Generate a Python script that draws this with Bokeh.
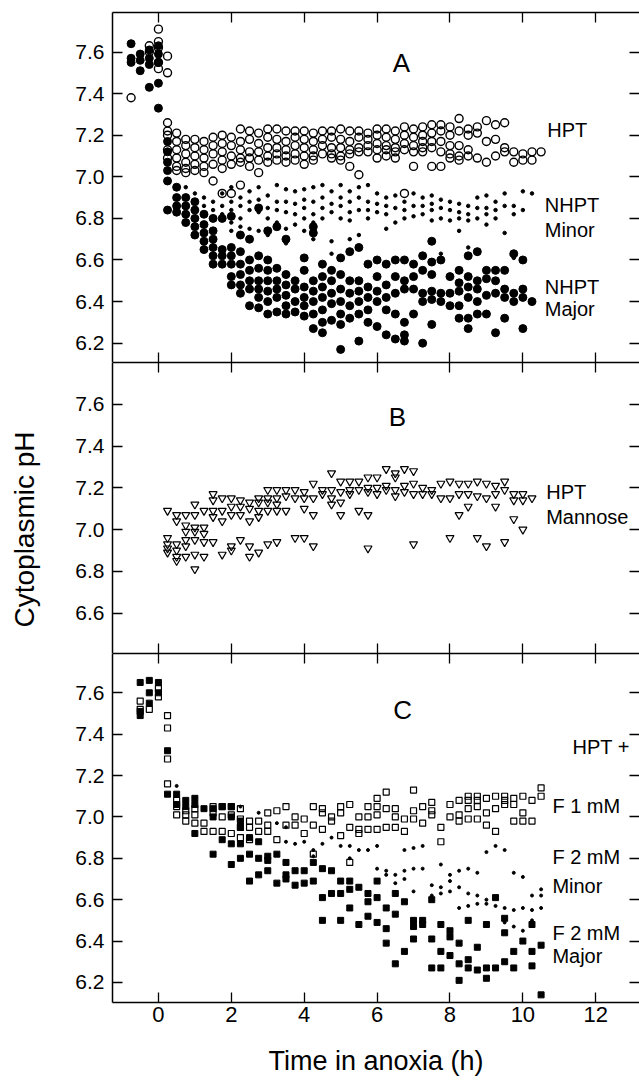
from bokeh.plotting import figure
from bokeh.layouts import column
from bokeh.models import (Range1d, FixedTicker, LinearAxis, PrintfTickFormatter, Label, Title,
                          CustomLabelingPolicy)
from bokeh.embed import file_html
from bokeh.resources import INLINE

FONT = "Liberation Sans"

# ---------------- data (time in anoxia h -> cytoplasmic pH values) ----------------
X_TICKS = [0, 2, 4, 6, 8, 10, 12]
Y_TICKS_A = [6.2, 6.4, 6.6, 6.8, 7.0, 7.2, 7.4, 7.6]
Y_TICKS_B = [6.6, 6.8, 7.0, 7.2, 7.4, 7.6]
Y_TICKS_C = [6.2, 6.4, 6.6, 6.8, 7.0, 7.2, 7.4, 7.6]

# Panel A: HPT (open circles)
A_HPT = {
    -0.75: [7.38], -0.25: [7.63, 7.60], 0.0: [7.71, 7.65, 7.62, 7.55, 7.52],
    0.25: [7.58, 7.50, 7.26, 7.22, 7.20, 7.13, 7.09],
    0.5: [7.21, 7.17, 7.13, 7.09, 7.05, 7.03], 0.75: [7.18, 7.15, 7.11, 7.07, 7.04, 7.02],
    1.0: [7.18, 7.14, 7.10, 7.06, 7.03], 1.25: [7.17, 7.13, 7.09, 7.05, 7.02],
    1.5: [7.19, 7.15, 7.11, 7.06, 6.98], 1.75: [7.20, 7.16, 7.12, 7.08, 7.04, 6.92],
    2.0: [7.19, 7.15, 7.10, 7.06, 6.92], 2.25: [7.23, 7.17, 7.13, 7.09, 7.07, 6.96],
    2.5: [7.22, 7.18, 7.12, 7.09, 7.05], 2.75: [7.21, 7.16, 7.12, 7.08, 7.02],
    3.0: [7.23, 7.19, 7.14, 7.10, 7.07], 3.25: [7.23, 7.18, 7.14, 7.11, 7.08],
    3.5: [7.22, 7.17, 7.13, 7.10, 7.07], 3.75: [7.22, 7.19, 7.15, 7.11, 7.08],
    4.0: [7.22, 7.18, 7.14, 7.10, 7.06], 4.25: [7.21, 7.17, 7.13, 7.10, 7.08],
    4.5: [7.22, 7.18, 7.15, 7.11], 4.75: [7.22, 7.19, 7.14, 7.11, 7.09],
    5.0: [7.23, 7.18, 7.14, 7.10, 7.08], 5.25: [7.22, 7.17, 7.13, 7.11, 7.05],
    5.5: [7.22, 7.19, 7.14, 7.12, 7.01], 5.75: [7.21, 7.18, 7.15, 7.12],
    6.0: [7.23, 7.20, 7.16, 7.13, 7.09], 6.25: [7.23, 7.19, 7.15, 7.13, 7.10],
    6.5: [7.22, 7.18, 7.14, 7.12, 7.09], 6.75: [7.24, 7.20, 7.16, 7.13, 6.92],
    7.0: [7.23, 7.19, 7.15, 7.12, 7.05], 7.25: [7.24, 7.20, 7.17, 7.14, 7.12],
    7.5: [7.25, 7.21, 7.17, 7.14, 7.05], 7.75: [7.25, 7.22, 7.17, 7.12, 7.05],
    8.0: [7.24, 7.20, 7.15, 7.11, 7.09], 8.25: [7.28, 7.22, 7.15, 7.10, 7.08],
    8.5: [7.23, 7.20, 7.13, 7.10], 8.75: [7.24, 7.21, 7.09], 9.0: [7.27, 7.17, 7.07],
    9.25: [7.25, 7.18, 7.10], 9.5: [7.26, 7.14, 7.12], 9.75: [7.12, 7.07],
    10.0: [7.11, 7.08], 10.25: [7.12, 7.08], 10.5: [7.12],
}

# Panel A: NHPT major (filled circles)
A_NHPT_MAJOR = {
    -0.75: [7.64, 7.57, 7.55], -0.5: [7.59, 7.56, 7.51], -0.25: [7.61, 7.57, 7.54, 7.43],
    0.0: [7.63, 7.59, 7.55, 7.45, 7.33], 0.25: [7.17, 7.12, 7.07, 7.03, 6.98, 6.84],
    0.5: [6.95, 6.90, 6.86, 6.83], 0.75: [6.90, 6.86, 6.82, 6.78],
    1.0: [6.88, 6.84, 6.80, 6.76, 6.72], 1.25: [6.82, 6.77, 6.73, 6.69, 6.65],
    1.5: [6.80, 6.74, 6.70, 6.66, 6.62, 6.58], 1.75: [6.80, 6.65, 6.62, 6.58],
    2.0: [6.81, 6.66, 6.62, 6.58, 6.52, 6.48], 2.25: [6.72, 6.64, 6.58, 6.53, 6.48, 6.44],
    2.5: [6.70, 6.60, 6.55, 6.50, 6.46, 6.38], 2.75: [6.85, 6.62, 6.56, 6.50, 6.46, 6.42, 6.37],
    3.0: [6.74, 6.60, 6.55, 6.50, 6.45, 6.40, 6.34], 3.25: [6.76, 6.56, 6.50, 6.46, 6.42, 6.35],
    3.5: [6.70, 6.53, 6.48, 6.43, 6.38, 6.34], 3.75: [6.50, 6.46, 6.40, 6.35],
    4.0: [6.61, 6.55, 6.47, 6.42, 6.38, 6.33], 4.25: [6.76, 6.73, 6.50, 6.45, 6.40, 6.34, 6.27],
    4.5: [6.58, 6.52, 6.47, 6.42, 6.36, 6.30, 6.25], 4.75: [6.55, 6.50, 6.44, 6.39, 6.31],
    5.0: [6.61, 6.53, 6.46, 6.40, 6.34, 6.29, 6.17], 5.25: [6.64, 6.50, 6.44, 6.38, 6.32],
    5.5: [6.66, 6.50, 6.45, 6.40, 6.34, 6.21], 5.75: [6.58, 6.47, 6.42, 6.36, 6.30],
    6.0: [6.60, 6.52, 6.45, 6.40, 6.28], 6.25: [6.58, 6.48, 6.42, 6.36, 6.24],
    6.5: [6.60, 6.52, 6.44, 6.34, 6.22], 6.75: [6.60, 6.50, 6.46, 6.30, 6.24, 6.21],
    7.0: [6.58, 6.52, 6.46, 6.34], 7.25: [6.62, 6.55, 6.44, 6.40, 6.20],
    7.5: [6.69, 6.59, 6.53, 6.45, 6.41, 6.29], 7.75: [6.60, 6.44, 6.40],
    8.0: [6.52, 6.44, 6.38], 8.25: [6.55, 6.49, 6.45, 6.38, 6.32],
    8.5: [6.62, 6.52, 6.47, 6.42, 6.32, 6.27], 8.75: [6.64, 6.50, 6.46, 6.40, 6.34],
    9.0: [6.55, 6.51, 6.43, 6.34], 9.25: [6.55, 6.50, 6.44, 6.25],
    9.5: [6.55, 6.46, 6.42, 6.32], 9.75: [6.63, 6.44, 6.40],
    10.0: [6.60, 6.46, 6.42, 6.27], 10.25: [6.40],
}

# Panel A: NHPT minor (small dots)
A_NHPT_MINOR = {
    0.75: [6.95], 1.0: [6.92, 6.88, 6.85], 1.25: [6.90, 6.86], 1.5: [6.88, 6.84, 6.80],
    1.75: [6.92, 6.86, 6.82], 2.0: [6.95, 6.88, 6.84, 6.78, 6.74], 2.25: [6.90, 6.86, 6.80, 6.76],
    2.5: [6.93, 6.88, 6.84, 6.75], 2.75: [6.95, 6.89, 6.83, 6.74], 3.0: [6.91, 6.85, 6.80, 6.72],
    3.25: [6.96, 6.88, 6.84, 6.78], 3.5: [6.94, 6.88, 6.83, 6.75, 6.68],
    3.75: [6.93, 6.87, 6.82, 6.77], 4.0: [6.94, 6.89, 6.85, 6.80, 6.74],
    4.25: [6.95, 6.88, 6.82, 6.78, 6.70], 4.5: [6.96, 6.90, 6.85, 6.80],
    4.75: [6.93, 6.87, 6.83, 6.69, 6.63], 5.0: [6.96, 6.90, 6.86, 6.80],
    5.25: [6.93, 6.88, 6.83, 6.79, 6.70], 5.5: [6.95, 6.90, 6.84, 6.72],
    5.75: [6.96, 6.88, 6.84, 6.80], 6.0: [6.92, 6.87, 6.83], 6.25: [6.90, 6.86, 6.82, 6.75],
    6.5: [6.91, 6.85, 6.78], 6.75: [6.88, 6.84, 6.80], 7.0: [6.92, 6.86, 6.81],
    7.25: [6.90, 6.86, 6.82], 7.5: [6.91, 6.87, 6.84, 6.79], 7.75: [6.89, 6.85, 6.80, 6.63],
    8.0: [6.88, 6.84, 6.79], 8.25: [6.87, 6.83, 6.80, 6.74], 8.5: [6.86, 6.82, 6.79, 6.66],
    8.75: [6.90, 6.85, 6.80, 6.63], 9.0: [6.91, 6.85, 6.82, 6.77], 9.25: [6.88, 6.84, 6.80],
    9.5: [6.92, 6.86, 6.73], 9.75: [6.86, 6.82, 6.61], 10.0: [6.93, 6.84, 6.60], 10.25: [6.92],
}

# Panel B: HPT + mannose (open inverted triangles)
B_HPT_MANNOSE = {
    0.25: [7.09, 6.96, 6.93, 6.91, 6.89], 0.5: [7.07, 7.04, 6.93, 6.90, 6.87, 6.85],
    0.75: [7.07, 7.02, 6.99, 6.95, 6.92, 6.87], 1.0: [7.12, 7.07, 7.01, 6.99, 6.95, 6.88, 6.81],
    1.25: [7.09, 7.01, 6.98, 6.94, 6.87], 1.5: [7.17, 7.14, 7.09, 7.06, 6.94],
    1.75: [7.15, 7.09, 7.04, 6.88], 2.0: [7.15, 7.11, 7.07, 6.92, 6.90],
    2.25: [7.14, 7.11, 7.07, 6.95], 2.5: [7.13, 7.10, 7.04, 6.92, 6.87],
    2.75: [7.15, 7.13, 7.09, 7.06, 6.89], 3.0: [7.19, 7.15, 7.13, 7.09, 6.93],
    3.25: [7.19, 7.15, 7.12, 7.09, 6.94], 3.5: [7.19, 7.16, 7.09],
    3.75: [7.19, 7.15, 6.96], 4.0: [7.18, 7.15, 7.10, 6.96], 4.25: [7.22, 7.15, 7.07, 6.92],
    4.5: [7.19, 7.17], 4.75: [7.27, 7.19, 7.15, 7.12], 5.0: [7.23, 7.18, 7.13, 7.07],
    5.25: [7.23, 7.19, 7.17], 5.5: [7.23, 7.19, 7.09], 5.75: [7.25, 7.20, 7.18, 7.07, 6.91],
    6.0: [7.25, 7.20, 7.17], 6.25: [7.29, 7.21, 7.19], 6.5: [7.27, 7.25, 7.19, 7.16],
    6.75: [7.29, 7.21, 7.18], 7.0: [7.28, 7.22, 7.17, 6.93], 7.25: [7.20, 7.17],
    7.5: [7.19, 7.17], 7.75: [7.22, 7.15], 8.0: [7.23, 7.15, 6.96],
    8.25: [7.22, 7.17, 7.07], 8.5: [7.22, 7.17, 7.11], 8.75: [7.23, 7.16, 6.96],
    9.0: [7.22, 7.15, 6.92], 9.25: [7.21, 7.17, 7.11], 9.5: [7.23, 7.19, 6.94],
    9.75: [7.17, 7.14, 7.05], 10.0: [7.17, 7.14, 7.00], 10.25: [7.15],
}

# Panel C: HPT + F 1 mM (open squares)
C_F1 = {
    -0.5: [7.56, 7.52], -0.25: [7.52], 0.0: [7.58, 7.62], 0.25: [7.49, 7.43, 7.28, 7.16],
    0.5: [7.08, 7.05, 7.01], 0.75: [7.03, 7.01, 6.98], 1.0: [7.04, 7.01, 6.97],
    1.25: [6.97, 6.93], 1.5: [7.05, 7.02, 6.93], 1.75: [7.05, 7.00, 6.93],
    2.0: [7.05, 7.01, 6.92], 2.25: [7.04, 6.99, 6.95, 6.90], 2.5: [6.98, 6.95, 6.89],
    2.75: [6.98, 6.93], 3.0: [7.02, 6.96, 6.93], 3.25: [7.03, 6.89], 3.5: [7.05, 6.96],
    3.75: [7.00, 6.96], 4.0: [6.99, 6.92], 4.25: [7.05, 6.96, 6.82], 4.5: [7.04, 7.02, 6.94],
    4.75: [7.00, 6.98], 5.0: [7.05, 7.02, 6.91], 5.25: [7.06, 6.95, 6.78],
    5.5: [7.00, 6.94, 6.92], 5.75: [7.05, 7.00, 6.94], 6.0: [7.09, 7.05, 7.01, 6.94],
    6.25: [7.12, 7.04, 6.95], 6.5: [7.04, 7.00, 6.95], 6.75: [6.99, 6.93],
    7.0: [7.13, 7.03, 6.99], 7.25: [7.05, 6.97], 7.5: [7.07, 7.03, 7.01],
    7.75: [6.95, 6.88], 8.0: [7.06, 7.00], 8.25: [7.08, 7.01, 6.98],
    8.5: [7.10, 7.08, 7.04, 6.99], 8.75: [7.10, 7.08, 7.05, 6.99], 9.0: [7.09, 7.02, 6.96],
    9.25: [7.10, 7.04, 6.93], 9.5: [7.10, 7.08, 7.06], 9.75: [7.09, 7.06, 6.98],
    10.0: [7.10, 7.02, 6.98], 10.25: [7.08, 6.98], 10.5: [7.14, 7.10],
}

# Panel C: HPT + F 2 mM, major population (filled squares)
C_F2_MAJOR = {
    -0.5: [7.65, 7.51, 7.49], -0.25: [7.66, 7.60, 7.55], 0.0: [7.65, 7.60],
    0.25: [7.32, 7.11], 0.5: [7.11, 7.06], 0.75: [7.08, 7.05], 1.0: [7.09, 7.06, 6.92],
    1.25: [7.04], 1.5: [7.04, 7.00, 6.82], 1.75: [7.05, 6.89], 2.0: [7.05, 7.00, 6.87, 6.77],
    2.25: [6.98, 6.95, 6.87, 6.80], 2.5: [6.90, 6.82, 6.69], 2.75: [6.88, 6.80, 6.72],
    3.0: [6.81, 6.79, 6.74], 3.25: [6.82, 6.68], 3.5: [6.78, 6.72, 6.70], 3.75: [6.74, 6.67],
    4.0: [6.74, 6.68], 4.25: [6.78, 6.69], 4.5: [6.75, 6.61, 6.50], 4.75: [6.74, 6.63],
    5.0: [6.69, 6.63, 6.50], 5.25: [6.69, 6.65, 6.56], 5.5: [6.66, 6.48],
    5.75: [6.63, 6.59, 6.52], 6.0: [6.69, 6.61, 6.49], 6.25: [6.56, 6.46, 6.39],
    6.5: [6.63, 6.53, 6.29], 6.75: [6.59, 6.35], 7.0: [6.50, 6.47, 6.41], 7.25: [6.50, 6.48],
    7.5: [6.60, 6.41, 6.27], 7.75: [6.48, 6.35, 6.27], 8.0: [6.45, 6.42, 6.33],
    8.25: [6.39, 6.29, 6.21], 8.5: [6.50, 6.31, 6.27], 8.75: [6.37, 6.26],
    9.0: [6.48, 6.27, 6.22], 9.25: [6.61, 6.27], 9.5: [6.51, 6.44, 6.30], 9.75: [6.35, 6.27],
    10.0: [6.40], 10.25: [6.48, 6.35, 6.28], 10.5: [6.38, 6.14],
}

# Panel C: HPT + F 2 mM, minor population (small dots)
C_F2_MINOR = {
    0.5: [7.15], 2.25: [7.05], 2.75: [7.02], 3.25: [6.97], 3.5: [6.95, 6.88], 3.75: [6.87],
    4.0: [6.88], 4.25: [6.84, 6.81], 4.5: [6.87], 4.75: [6.90], 5.0: [6.86], 5.25: [6.86, 6.80],
    5.5: [6.84], 5.75: [6.84], 6.0: [6.86, 6.75], 6.25: [6.74, 6.72], 6.5: [6.72, 6.68],
    6.75: [6.84, 6.74, 6.70], 7.0: [6.85, 6.75, 6.64], 7.25: [6.86, 6.75], 7.5: [6.67, 6.62],
    7.75: [6.77, 6.66, 6.63], 8.0: [6.72, 6.69, 6.64], 8.25: [6.74, 6.66, 6.56],
    8.5: [6.75, 6.63, 6.57], 8.75: [6.73, 6.62, 6.58], 9.0: [6.83, 6.60, 6.58],
    9.25: [6.86, 6.61, 6.57], 9.5: [6.84, 6.56, 6.49], 9.75: [6.73, 6.55, 6.47],
    10.0: [6.71, 6.56, 6.45], 10.25: [6.62, 6.55, 6.50], 10.5: [6.65, 6.62, 6.56],
}


def flat(d):
    xs, ys = [], []
    for t, vals in d.items():
        for v in vals:
            xs.append(t)
            ys.append(v)
    return xs, ys


XR = Range1d(-1.26, 13.2)

NO_LABELS = """
for (const i of indices) indices.unset(i)
return indices
"""


def hidden_axis(ticks):
    return LinearAxis(ticker=FixedTicker(ticks=ticks),
                      major_label_policy=CustomLabelingPolicy(code=NO_LABELS),
                      major_label_text_font_size="0px",
                      major_label_standoff=0, major_tick_in=10, major_tick_out=0,
                      minor_tick_line_color=None, axis_line_width=1.5,
                      major_tick_line_width=1.3)


def make_panel(y0, y1, yticks, frame_h, top_border, bottom_labels=False):
    p = figure(frame_width=527, frame_height=frame_h, x_range=XR, y_range=Range1d(y0, y1),
               output_backend="svg", toolbar_location=None,
               x_axis_location=None, y_axis_location=None,
               min_border_left=112, min_border_right=0, min_border_top=top_border,
               min_border_bottom=0, outline_line_color=None)
    p.grid.visible = False
    left = LinearAxis(ticker=FixedTicker(ticks=yticks), formatter=PrintfTickFormatter(format="%.1f"),
                      major_tick_in=10, major_tick_out=0, minor_tick_line_color=None,
                      major_label_standoff=8, major_label_text_font=FONT,
                      major_label_text_font_size="21px", major_label_text_color="black",
                      axis_line_width=1.5, major_tick_line_width=1.3)
    p.add_layout(left, "left")
    right = hidden_axis(yticks)
    right.axis_line_color = None
    p.add_layout(right, "right")
    p.add_layout(hidden_axis(X_TICKS), "above")
    if bottom_labels:
        bottom = LinearAxis(ticker=FixedTicker(ticks=X_TICKS), major_tick_in=10, major_tick_out=0,
                            minor_tick_line_color=None, major_label_standoff=4,
                            major_label_text_font=FONT, major_label_text_font_size="22px",
                            major_label_text_color="black",
                            axis_label="Time in anoxia (h)", axis_label_text_font=FONT,
                            axis_label_text_font_size="27px", axis_label_text_font_style="normal",
                            axis_label_text_color="black",
                            axis_label_standoff=21, axis_line_width=1.5, major_tick_line_width=1.3)
        p.add_layout(bottom, "below")
    else:
        p.add_layout(hidden_axis(X_TICKS), "below")
    return p


def label(p, x, y, text, size, align="left"):
    p.add_layout(Label(x=x, y=y, text=text, text_font=FONT, text_font_size=size,
                       text_align=align, text_baseline="middle", text_color="black"))


# ---------------- Panel A ----------------
pA = make_panel(6.107, 7.79, Y_TICKS_A, 350, 12)
x, y = flat(A_NHPT_MINOR)
pA.scatter(x, y, marker="circle", size=3.5, fill_color="black", line_color="black")
x, y = flat(A_NHPT_MAJOR)
pA.scatter(x, y, marker="circle", size=8, fill_color="black", line_color="black")
x, y = flat(A_HPT)
pA.scatter(x, y, marker="circle", size=8, fill_color=None, line_color="black", line_width=1.4)
label(pA, 6.67, 7.548, "A", "26px", "center")
label(pA, 10.67, 7.223, "HPT", "20px")
label(pA, 10.6, 6.862, "NHPT", "20px")
label(pA, 10.6, 6.745, "Minor", "20px")
label(pA, 10.6, 6.469, "NHPT", "20px")
label(pA, 10.6, 6.365, "Major", "20px")

# ---------------- Panel B ----------------
pB = make_panel(6.406, 7.80, Y_TICKS_B, 291, 0)
x, y = flat(B_HPT_MANNOSE)
pB.scatter(x, y, marker="inverted_triangle", size=8, fill_color=None, line_color="black",
           line_width=1.2)
label(pB, 6.56, 7.54, "B", "26px", "center")
label(pB, 10.64, 7.178, "HPT", "20px")
label(pB, 10.64, 7.059, "Mannose", "20px")
# invisible spacer between tick labels and the y title
spacer = LinearAxis(ticker=FixedTicker(ticks=Y_TICKS_B),
                    major_label_policy=CustomLabelingPolicy(code=NO_LABELS),
                    major_label_text_font_size="0px", major_label_standoff=0,
                    major_tick_in=0, major_tick_out=28, major_tick_line_color=None,
                    minor_tick_line_color=None, axis_line_color=None)
pB.add_layout(spacer, "left")
pB.add_layout(Title(text="Cytoplasmic pH", align="left", offset=26,
                    text_font=FONT, text_font_size="28px", text_font_style="normal",
                    text_color="black"), "left")

# ---------------- Panel C ----------------
pC = make_panel(6.103, 7.79, Y_TICKS_C, 349, 0, bottom_labels=True)
x, y = flat(C_F2_MINOR)
pC.scatter(x, y, marker="circle", size=3, fill_color="black", line_color="black")
x, y = flat(C_F2_MAJOR)
pC.scatter(x, y, marker="square", size=6, fill_color="black", line_color="black")
x, y = flat(C_F1)
pC.scatter(x, y, marker="square", size=6, fill_color=None, line_color="black", line_width=1.2)
label(pC, 6.7, 7.515, "C", "26px", "center")
label(pC, 11.36, 7.34, "HPT +", "20px")
label(pC, 10.81, 7.055, "F 1 mM", "20px")
label(pC, 10.81, 6.805, "F 2 mM", "20px")
label(pC, 10.81, 6.668, "Minor", "20px")
label(pC, 10.81, 6.437, "F 2 mM", "20px")
label(pC, 10.81, 6.329, "Major", "20px")

layout = column(pA, pB, pC, spacing=0)
open("out.html", "w").write(file_html(layout, INLINE))
